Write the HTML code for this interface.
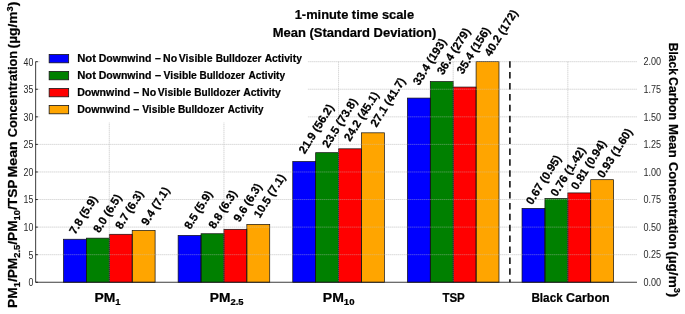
<!DOCTYPE html>
<html><head><meta charset="utf-8"><title>chart</title><style>html,body{margin:0;padding:0;background:#fff}svg{display:block}text[font-weight=bold],g[font-weight=bold] text{stroke:#000;stroke-width:0.22px;stroke-linejoin:round}</style></head><body>
<svg width="685" height="314" viewBox="0 0 685 314" font-family="'Liberation Sans', sans-serif">
<rect width="685" height="314" fill="#fff"/>
<g stroke="#c6c6c6" stroke-width="0.65" stroke-dasharray="1,1" fill="none" opacity="1">
<line x1="35.65" y1="254.68" x2="637.0" y2="254.68"/>
<line x1="35.65" y1="227.11" x2="637.0" y2="227.11"/>
<line x1="35.65" y1="199.54" x2="637.0" y2="199.54"/>
<line x1="35.65" y1="171.97" x2="637.0" y2="171.97"/>
<line x1="35.65" y1="144.40" x2="637.0" y2="144.40"/>
<line x1="35.65" y1="116.83" x2="637.0" y2="116.83"/>
<line x1="35.65" y1="89.26" x2="637.0" y2="89.26"/>
<line x1="35.65" y1="61.69" x2="637.0" y2="61.69"/>
<line x1="109.30" y1="61.69" x2="109.30" y2="282.25"/>
<line x1="223.93" y1="61.69" x2="223.93" y2="282.25"/>
<line x1="338.56" y1="61.69" x2="338.56" y2="282.25"/>
<line x1="453.19" y1="61.69" x2="453.19" y2="282.25"/>
<line x1="567.82" y1="61.69" x2="567.82" y2="282.25"/>
</g>
<rect x="63.50" y="239.24" width="22.90" height="43.01" fill="#0000ff"/>
<rect x="86.40" y="238.14" width="22.90" height="44.11" fill="#008000"/>
<rect x="109.30" y="234.28" width="22.90" height="47.97" fill="#ff0000"/>
<rect x="132.20" y="230.42" width="22.90" height="51.83" fill="#ffa500"/>
<rect x="178.13" y="235.38" width="22.90" height="46.87" fill="#0000ff"/>
<rect x="201.03" y="233.73" width="22.90" height="48.52" fill="#008000"/>
<rect x="223.93" y="229.32" width="22.90" height="52.93" fill="#ff0000"/>
<rect x="246.83" y="224.35" width="22.90" height="57.90" fill="#ffa500"/>
<rect x="292.76" y="161.49" width="22.90" height="120.76" fill="#0000ff"/>
<rect x="315.66" y="152.67" width="22.90" height="129.58" fill="#008000"/>
<rect x="338.56" y="148.81" width="22.90" height="133.44" fill="#ff0000"/>
<rect x="361.46" y="132.82" width="22.90" height="149.43" fill="#ffa500"/>
<rect x="407.39" y="98.08" width="22.90" height="184.17" fill="#0000ff"/>
<rect x="430.29" y="81.54" width="22.90" height="200.71" fill="#008000"/>
<rect x="453.19" y="87.05" width="22.90" height="195.20" fill="#ff0000"/>
<rect x="476.09" y="61.69" width="22.90" height="220.56" fill="#ffa500"/>
<rect x="522.02" y="208.36" width="22.90" height="73.89" fill="#0000ff"/>
<rect x="544.92" y="198.44" width="22.90" height="83.81" fill="#008000"/>
<rect x="567.82" y="192.92" width="22.90" height="89.33" fill="#ff0000"/>
<rect x="590.72" y="179.69" width="22.90" height="102.56" fill="#ffa500"/>
<g fill="none" stroke="#111" stroke-width="0.7">
<rect x="63.50" y="239.24" width="22.90" height="43.01"/>
<rect x="86.40" y="238.14" width="22.90" height="44.11"/>
<rect x="109.30" y="234.28" width="22.90" height="47.97"/>
<rect x="132.20" y="230.42" width="22.90" height="51.83"/>
<rect x="178.13" y="235.38" width="22.90" height="46.87"/>
<rect x="201.03" y="233.73" width="22.90" height="48.52"/>
<rect x="223.93" y="229.32" width="22.90" height="52.93"/>
<rect x="246.83" y="224.35" width="22.90" height="57.90"/>
<rect x="292.76" y="161.49" width="22.90" height="120.76"/>
<rect x="315.66" y="152.67" width="22.90" height="129.58"/>
<rect x="338.56" y="148.81" width="22.90" height="133.44"/>
<rect x="361.46" y="132.82" width="22.90" height="149.43"/>
<rect x="407.39" y="98.08" width="22.90" height="184.17"/>
<rect x="430.29" y="81.54" width="22.90" height="200.71"/>
<rect x="453.19" y="87.05" width="22.90" height="195.20"/>
<rect x="476.09" y="61.69" width="22.90" height="220.56"/>
<rect x="522.02" y="208.36" width="22.90" height="73.89"/>
<rect x="544.92" y="198.44" width="22.90" height="83.81"/>
<rect x="567.82" y="192.92" width="22.90" height="89.33"/>
<rect x="590.72" y="179.69" width="22.90" height="102.56"/>
</g>
<g stroke="#c6c6c6" stroke-width="0.65" stroke-dasharray="1,1" fill="none" opacity="0.85">
<line x1="35.65" y1="254.68" x2="637.0" y2="254.68"/>
<line x1="35.65" y1="227.11" x2="637.0" y2="227.11"/>
<line x1="35.65" y1="199.54" x2="637.0" y2="199.54"/>
<line x1="35.65" y1="171.97" x2="637.0" y2="171.97"/>
<line x1="35.65" y1="144.40" x2="637.0" y2="144.40"/>
<line x1="35.65" y1="116.83" x2="637.0" y2="116.83"/>
<line x1="35.65" y1="89.26" x2="637.0" y2="89.26"/>
<line x1="35.65" y1="61.69" x2="637.0" y2="61.69"/>
<line x1="109.30" y1="61.69" x2="109.30" y2="282.25"/>
<line x1="223.93" y1="61.69" x2="223.93" y2="282.25"/>
<line x1="338.56" y1="61.69" x2="338.56" y2="282.25"/>
<line x1="453.19" y1="61.69" x2="453.19" y2="282.25"/>
<line x1="567.82" y1="61.69" x2="567.82" y2="282.25"/>
</g>
<text transform="translate(75.15,235.08) rotate(-58)" font-size="11.5" font-weight="bold" fill="#000">7.8 (5.9)</text>
<text transform="translate(99.28,233.58) rotate(-58)" font-size="11.5" font-weight="bold" fill="#000">8.0 (6.5)</text>
<text transform="translate(121.18,229.92) rotate(-58)" font-size="11.5" font-weight="bold" fill="#000">8.7 (6.3)</text>
<text transform="translate(147.22,226.35) rotate(-58)" font-size="11.5" font-weight="bold" fill="#000">9.4 (7.1)</text>
<text transform="translate(190.18,230.02) rotate(-58)" font-size="11.5" font-weight="bold" fill="#000">8.5 (5.9)</text>
<text transform="translate(214.62,229.62) rotate(-58)" font-size="11.5" font-weight="bold" fill="#000">8.8 (6.3)</text>
<text transform="translate(239.58,222.70) rotate(-58)" font-size="11.5" font-weight="bold" fill="#000">9.6 (6.3)</text>
<text transform="translate(259.73,218.70) rotate(-58)" font-size="11.5" font-weight="bold" fill="#000">10.5 (7.1)</text>
<text transform="translate(304.75,154.45) rotate(-58)" font-size="11.5" font-weight="bold" fill="#000">21.9 (56.2)</text>
<text transform="translate(328.25,148.45) rotate(-58)" font-size="11.5" font-weight="bold" fill="#000">23.5 (73.8)</text>
<text transform="translate(349.90,142.00) rotate(-58)" font-size="11.5" font-weight="bold" fill="#000">24.2 (45.1)</text>
<text transform="translate(376.40,127.85) rotate(-58)" font-size="11.5" font-weight="bold" fill="#000">27.1 (41.7)</text>
<text transform="translate(419.02,86.05) rotate(-58)" font-size="11.5" font-weight="bold" fill="#000">33.4 (193)</text>
<text transform="translate(442.92,75.55) rotate(-58)" font-size="11.5" font-weight="bold" fill="#000">36.4 (279)</text>
<text transform="translate(462.83,74.65) rotate(-58)" font-size="11.5" font-weight="bold" fill="#000">35.4 (156)</text>
<text transform="translate(490.38,57.15) rotate(-58)" font-size="11.5" font-weight="bold" fill="#000">40.2 (172)</text>
<text transform="translate(532.08,205.38) rotate(-58)" font-size="11.5" font-weight="bold" fill="#000">0.67 (0.95)</text>
<text transform="translate(556.62,197.18) rotate(-58)" font-size="11.5" font-weight="bold" fill="#000">0.76 (1.42)</text>
<text transform="translate(577.12,190.48) rotate(-58)" font-size="11.5" font-weight="bold" fill="#000">0.81 (0.94)</text>
<text transform="translate(603.22,178.68) rotate(-58)" font-size="11.5" font-weight="bold" fill="#000">0.93 (1.60)</text>
<line x1="509.9" y1="61.2" x2="509.9" y2="282.25" stroke="#000" stroke-width="1.5" stroke-dasharray="6.5,4.4"/>
<rect x="40" y="47" width="267.8" height="75.5" fill="#fff"/>
<rect x="49.15" y="54.50" width="19.5" height="8.3" fill="#0000ff" stroke="#161616" stroke-width="0.8"/>
<g font-size="10.9" font-weight="bold" fill="#000" text-anchor="middle">
<text x="86.62" y="62.30" textLength="18.8" lengthAdjust="spacingAndGlyphs">Not</text>
<text x="125.05" y="62.30" textLength="52.7" lengthAdjust="spacingAndGlyphs">Downwind</text>
<text x="157.80" y="62.30" textLength="5.8" lengthAdjust="spacingAndGlyphs">–</text>
<text x="170.10" y="62.30" textLength="14.1" lengthAdjust="spacingAndGlyphs">No</text>
<text x="195.65" y="62.30" textLength="33.7" lengthAdjust="spacingAndGlyphs">Visible</text>
<text x="238.60" y="62.30" textLength="45.8" lengthAdjust="spacingAndGlyphs">Bulldozer</text>
<text x="283.30" y="62.30" textLength="37.2" lengthAdjust="spacingAndGlyphs">Activity</text>
</g>
<rect x="49.15" y="71.50" width="19.5" height="8.3" fill="#008000" stroke="#161616" stroke-width="0.8"/>
<g font-size="10.9" font-weight="bold" fill="#000" text-anchor="middle">
<text x="86.62" y="79.30" textLength="18.8" lengthAdjust="spacingAndGlyphs">Not</text>
<text x="125.05" y="79.30" textLength="52.7" lengthAdjust="spacingAndGlyphs">Downwind</text>
<text x="158.15" y="79.30" textLength="6.1" lengthAdjust="spacingAndGlyphs">–</text>
<text x="180.25" y="79.30" textLength="33.3" lengthAdjust="spacingAndGlyphs">Visible</text>
<text x="222.25" y="79.30" textLength="45.5" lengthAdjust="spacingAndGlyphs">Bulldozer</text>
<text x="266.80" y="79.30" textLength="36.6" lengthAdjust="spacingAndGlyphs">Activity</text>
</g>
<rect x="49.15" y="88.50" width="19.5" height="8.3" fill="#ff0000" stroke="#161616" stroke-width="0.8"/>
<g font-size="10.9" font-weight="bold" fill="#000" text-anchor="middle">
<text x="103.77" y="96.30" textLength="53.2" lengthAdjust="spacingAndGlyphs">Downwind</text>
<text x="136.40" y="96.30" textLength="5.6" lengthAdjust="spacingAndGlyphs">–</text>
<text x="149.10" y="96.30" textLength="14.1" lengthAdjust="spacingAndGlyphs">No</text>
<text x="174.50" y="96.30" textLength="33.4" lengthAdjust="spacingAndGlyphs">Visible</text>
<text x="217.25" y="96.30" textLength="45.9" lengthAdjust="spacingAndGlyphs">Bulldozer</text>
<text x="262.05" y="96.30" textLength="37.7" lengthAdjust="spacingAndGlyphs">Activity</text>
</g>
<rect x="49.15" y="105.50" width="19.5" height="8.3" fill="#ffa500" stroke="#161616" stroke-width="0.8"/>
<g font-size="10.9" font-weight="bold" fill="#000" text-anchor="middle">
<text x="103.77" y="113.30" textLength="53.2" lengthAdjust="spacingAndGlyphs">Downwind</text>
<text x="136.25" y="113.30" textLength="5.9" lengthAdjust="spacingAndGlyphs">–</text>
<text x="158.70" y="113.30" textLength="33.0" lengthAdjust="spacingAndGlyphs">Visible</text>
<text x="201.05" y="113.30" textLength="46.1" lengthAdjust="spacingAndGlyphs">Bulldozer</text>
<text x="245.65" y="113.30" textLength="35.9" lengthAdjust="spacingAndGlyphs">Activity</text>
</g>
<path d="M35.65 61.69V282.25H637.0" stroke="#1a1a1a" stroke-width="0.85" fill="none"/>
<line x1="35.65" y1="282.25" x2="37.85" y2="282.25" stroke="#000" stroke-width="0.8"/>
<text x="33.4" y="286.15" font-size="10" text-anchor="end" fill="#2a2a2a" textLength="4.9" lengthAdjust="spacingAndGlyphs">0</text>
<line x1="35.65" y1="254.68" x2="37.85" y2="254.68" stroke="#000" stroke-width="0.8"/>
<text x="33.4" y="258.58" font-size="10" text-anchor="end" fill="#2a2a2a" textLength="4.9" lengthAdjust="spacingAndGlyphs">5</text>
<line x1="35.65" y1="227.11" x2="37.85" y2="227.11" stroke="#000" stroke-width="0.8"/>
<text x="33.4" y="231.01" font-size="10" text-anchor="end" fill="#2a2a2a" textLength="9.8" lengthAdjust="spacingAndGlyphs">10</text>
<line x1="35.65" y1="199.54" x2="37.85" y2="199.54" stroke="#000" stroke-width="0.8"/>
<text x="33.4" y="203.44" font-size="10" text-anchor="end" fill="#2a2a2a" textLength="9.8" lengthAdjust="spacingAndGlyphs">15</text>
<line x1="35.65" y1="171.97" x2="37.85" y2="171.97" stroke="#000" stroke-width="0.8"/>
<text x="33.4" y="175.87" font-size="10" text-anchor="end" fill="#2a2a2a" textLength="9.8" lengthAdjust="spacingAndGlyphs">20</text>
<line x1="35.65" y1="144.40" x2="37.85" y2="144.40" stroke="#000" stroke-width="0.8"/>
<text x="33.4" y="148.30" font-size="10" text-anchor="end" fill="#2a2a2a" textLength="9.8" lengthAdjust="spacingAndGlyphs">25</text>
<line x1="35.65" y1="116.83" x2="37.85" y2="116.83" stroke="#000" stroke-width="0.8"/>
<text x="33.4" y="120.73" font-size="10" text-anchor="end" fill="#2a2a2a" textLength="9.8" lengthAdjust="spacingAndGlyphs">30</text>
<line x1="35.65" y1="89.26" x2="37.85" y2="89.26" stroke="#000" stroke-width="0.8"/>
<text x="33.4" y="93.16" font-size="10" text-anchor="end" fill="#2a2a2a" textLength="9.8" lengthAdjust="spacingAndGlyphs">35</text>
<line x1="35.65" y1="61.69" x2="37.85" y2="61.69" stroke="#000" stroke-width="0.8"/>
<text x="33.4" y="65.59" font-size="10" text-anchor="end" fill="#2a2a2a" textLength="9.8" lengthAdjust="spacingAndGlyphs">40</text>
<text x="643.5" y="286.05" font-size="10" fill="#2a2a2a" textLength="17.6" lengthAdjust="spacingAndGlyphs">0.00</text>
<text x="643.5" y="258.48" font-size="10" fill="#2a2a2a" textLength="17.6" lengthAdjust="spacingAndGlyphs">0.25</text>
<text x="643.5" y="230.91" font-size="10" fill="#2a2a2a" textLength="17.6" lengthAdjust="spacingAndGlyphs">0.50</text>
<text x="643.5" y="203.34" font-size="10" fill="#2a2a2a" textLength="17.6" lengthAdjust="spacingAndGlyphs">0.75</text>
<text x="643.5" y="175.77" font-size="10" fill="#2a2a2a" textLength="17.6" lengthAdjust="spacingAndGlyphs">1.00</text>
<text x="643.5" y="148.20" font-size="10" fill="#2a2a2a" textLength="17.6" lengthAdjust="spacingAndGlyphs">1.25</text>
<text x="643.5" y="120.63" font-size="10" fill="#2a2a2a" textLength="17.6" lengthAdjust="spacingAndGlyphs">1.50</text>
<text x="643.5" y="93.06" font-size="10" fill="#2a2a2a" textLength="17.6" lengthAdjust="spacingAndGlyphs">1.75</text>
<text x="643.5" y="65.49" font-size="10" fill="#2a2a2a" textLength="17.6" lengthAdjust="spacingAndGlyphs">2.00</text>
<text x="354.4" y="19.0" font-size="12.6" font-weight="bold" text-anchor="middle" fill="#000" textLength="119.4" lengthAdjust="spacingAndGlyphs">1-minute time scale</text>
<text x="354.5" y="36.6" font-size="12.6" font-weight="bold" text-anchor="middle" fill="#000" textLength="163.5" lengthAdjust="spacingAndGlyphs">Mean (Standard Deviation)</text>
<text x="94.40" y="301.9" font-size="12.6" font-weight="bold" fill="#000" textLength="26.1" lengthAdjust="spacingAndGlyphs">PM<tspan font-size="8.6" dy="3.1">1</tspan></text>
<text x="209.80" y="301.9" font-size="12.6" font-weight="bold" fill="#000" textLength="33.7" lengthAdjust="spacingAndGlyphs">PM<tspan font-size="8.6" dy="3.1">2.5</tspan></text>
<text x="322.80" y="301.9" font-size="12.6" font-weight="bold" fill="#000" textLength="31.7" lengthAdjust="spacingAndGlyphs">PM<tspan font-size="8.6" dy="3.1">10</tspan></text>
<text x="442.40" y="301.9" font-size="12.6" font-weight="bold" fill="#000" textLength="22.4" lengthAdjust="spacingAndGlyphs">TSP</text>
<text x="531.40" y="301.9" font-size="12.6" font-weight="bold" fill="#000" textLength="31.3" lengthAdjust="spacingAndGlyphs">Black</text>
<text x="566.00" y="301.9" font-size="12.6" font-weight="bold" fill="#000" textLength="43.7" lengthAdjust="spacingAndGlyphs">Carbon</text>
<text transform="translate(16.8,243.70) rotate(-90)" font-size="12.6" font-weight="bold" text-anchor="middle" fill="#000" textLength="128.4" lengthAdjust="spacingAndGlyphs">PM<tspan font-size="8.6" dy="3.1">1</tspan><tspan dy="-3.1">/PM</tspan><tspan font-size="8.6" dy="3.1">2.5</tspan><tspan dy="-3.1">/PM</tspan><tspan font-size="8.6" dy="3.1">10</tspan><tspan dy="-3.1">/TSP</tspan></text>
<text transform="translate(16.8,159.40) rotate(-90)" font-size="12.6" font-weight="bold" text-anchor="middle" fill="#000" textLength="36.2" lengthAdjust="spacingAndGlyphs">Mean</text>
<text transform="translate(16.8,94.10) rotate(-90)" font-size="12.6" font-weight="bold" text-anchor="middle" fill="#000" textLength="86.2" lengthAdjust="spacingAndGlyphs">Concentration</text>
<text transform="translate(16.8,25.05) rotate(-90)" font-size="12.6" font-weight="bold" text-anchor="middle" fill="#000" textLength="46.7" lengthAdjust="spacingAndGlyphs">(µg/m<tspan font-size="8.6" dy="-4.2">3</tspan><tspan dy="4.2">)</tspan></text>
<text transform="translate(669.4,58.85) rotate(90)" font-size="12.6" font-weight="bold" text-anchor="middle" fill="#000" textLength="32.1" lengthAdjust="spacingAndGlyphs">Black</text>
<text transform="translate(669.4,98.50) rotate(90)" font-size="12.6" font-weight="bold" text-anchor="middle" fill="#000" textLength="42.8" lengthAdjust="spacingAndGlyphs">Carbon</text>
<text transform="translate(669.4,140.90) rotate(90)" font-size="12.6" font-weight="bold" text-anchor="middle" fill="#000" textLength="33.8" lengthAdjust="spacingAndGlyphs">Mean</text>
<text transform="translate(669.4,205.50) rotate(90)" font-size="12.6" font-weight="bold" text-anchor="middle" fill="#000" textLength="87.2" lengthAdjust="spacingAndGlyphs">Concentration</text>
<text transform="translate(669.4,274.30) rotate(90)" font-size="12.6" font-weight="bold" text-anchor="middle" fill="#000" textLength="46.2" lengthAdjust="spacingAndGlyphs">(µg/m<tspan font-size="8.6" dy="-4.2">3</tspan><tspan dy="4.2">)</tspan></text>
</svg>
</body></html>
